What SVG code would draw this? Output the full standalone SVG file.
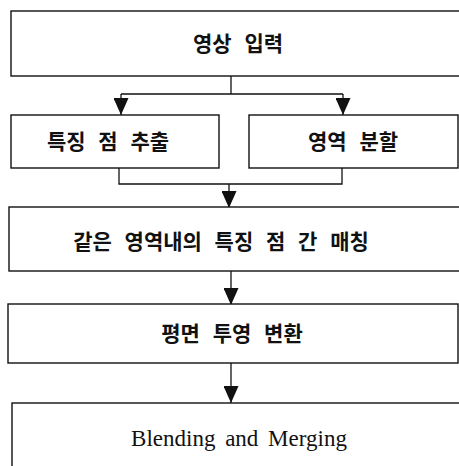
<svg xmlns="http://www.w3.org/2000/svg" width="459" height="466" viewBox="0 0 459 466">
<defs>
<marker id="ah" markerWidth="17" markerHeight="15" refX="17" refY="7.5" orient="auto" markerUnits="userSpaceOnUse" viewBox="0 0 17 15">
<path d="M0,0 L17,7.5 L0,15 Z" fill="#111"/>
</marker>
</defs>
<style>
.box{fill:#fff;stroke:#111;stroke-width:1.4}
.ko{font-family:"Noto Sans CJK KR","Noto Sans",sans-serif;font-size:21px;font-weight:700;fill:#111;text-anchor:middle;word-spacing:8px}
.en{font-family:"Liberation Serif",serif;font-size:23px;fill:#111;text-anchor:middle;word-spacing:4px}
.ln{fill:none;stroke:#111;stroke-width:1.3}
</style>
<rect width="459" height="466" fill="#fff"/>
<g id="connectors">
<path class="ln" d="M231,76 V94 M121,94 H343"/>
<path class="ln" d="M121,94 V115" marker-end="url(#ah)"/>
<path class="ln" d="M343,94 V115" marker-end="url(#ah)"/>
<path class="ln" d="M119,168 V184 H342 V168"/>
<path class="ln" d="M229,184 V208" marker-end="url(#ah)"/>
<path class="ln" d="M231,271 V305" marker-end="url(#ah)"/>
<path class="ln" d="M231,363 V403" marker-end="url(#ah)"/>
</g>
<g id="n1"><rect class="box" x="11" y="11" width="452" height="65"/><text class="ko" x="238" y="51">영상 입력</text></g>
<g id="n2"><rect class="box" x="11" y="115" width="208" height="53"/><text class="ko" x="108" y="149">특징 점 추출</text></g>
<g id="n3"><rect class="box" x="249" y="115" width="209" height="53"/><text class="ko" x="353" y="149">영역 분할</text></g>
<g id="n4"><rect class="box" x="9" y="207" width="454" height="64"/><text class="ko" x="221" y="249">같은 영역내의 특징 점 간 매칭</text></g>
<g id="n5"><rect class="box" x="8" y="304" width="450" height="59"/><text class="ko" x="232" y="341">평면 투영 변환</text></g>
<g id="n6"><rect class="box" x="12" y="403" width="452" height="70"/><text class="en" x="239" y="446">Blending and Merging</text></g>
</svg>
